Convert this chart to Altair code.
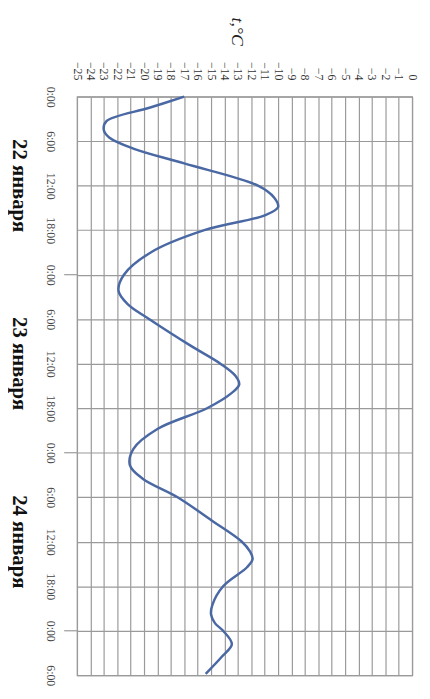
import altair as alt
import pandas as pd

# Reading of the curve (hours from 22 Jan 0:00, temperature in °C)
hours = [0, 1.5, 3.3, 4.5, 5.5, 7, 9, 12, 13.6, 14.9, 16, 18, 21, 24, 26.2,
         28, 30, 33.6, 36, 37.6, 38.8, 40, 42, 44.8, 47.5, 49.7, 51.5, 54,
         57.2, 60, 61.3, 62.3, 63.4, 66, 68.5, 69.8, 71, 72, 73.8, 75.5, 77.8]
temps = [-17.0, -19.6, -22.8, -23.0, -22.6, -20.8, -17.0, -11.5, -10.3, -10.0,
         -11.0, -15.5, -19.5, -21.5, -21.9, -21.2, -19.6, -16.5, -14.3, -13.2,
         -12.9, -13.5, -15.3, -19.0, -20.8, -21.05, -20.1, -17.5, -14.9, -12.7,
         -12.1, -11.9, -12.3, -14.1, -14.9, -15.0, -14.7, -14.1, -13.45, -14.2,
         -15.4]

temp_ticks = list(range(-25, 1))
time_ticks = list(range(0, 79, 6))
day_bounds = [24, 48, 72]
day_centers = [12, 36, 60]
day_names = ["22 января", "23 января", "24 января"]
axis_title = ["t,°C"]

df = pd.DataFrame({"hour": hours, "temp": temps})
bounds_df = pd.DataFrame({"hour": day_bounds})
days_df = pd.DataFrame({"hour": day_centers, "name": day_names})
title_df = pd.DataFrame({"t": axis_title})

GRID = "#9a9a9a"
SERIF = "Liberation Serif"

x_enc = alt.X(
    "temp:Q",
    scale=alt.Scale(domain=[-25, 0], nice=False, zero=False),
    axis=alt.Axis(
        orient="top", values=temp_ticks, grid=True, gridColor=GRID, gridWidth=1.2,
        tickSize=0, domain=False, labelAngle=90, labelAlign="right",
        labelBaseline="middle", labelPadding=17, labelFont=SERIF,
        labelFontSize=12, labelColor="#333", labelOverlap=False, title=None,
    ),
)
y_enc = alt.Y(
    "hour:Q",
    scale=alt.Scale(domain=[0, 78], reverse=True, nice=False, zero=False),
    axis=alt.Axis(
        values=time_ticks, labelExpr="(datum.value % 24) + ':00'", grid=True,
        gridColor=GRID, gridWidth=1.2, tickSize=0, domain=False,
        labelAngle=90, labelAlign="center", labelBaseline="middle",
        labelPadding=27, labelFont=SERIF, labelFontSize=12, labelColor="#444",
        labelOverlap=False, title=None,
    ),
)

line = alt.Chart(df).mark_line(
    interpolate="catmull-rom", color="#4a68a3", strokeWidth=2.5
).encode(x=x_enc, y=y_enc, order=alt.Order("hour:Q"))

bounds = alt.Chart(bounds_df).mark_rule(color=GRID, strokeWidth=1.2).encode(
    y=alt.Y("hour:Q"), x=alt.value(-13), x2=alt.value(0)
)

days = alt.Chart(days_df).mark_text(
    angle=90, font=SERIF, fontSize=21, fontWeight="bold", color="#111",
    align="center", baseline="middle"
).encode(y=alt.Y("hour:Q"), x=alt.value(-59), text="name:N")

title = alt.Chart(title_df).mark_text(
    angle=90, font=SERIF, fontSize=18, fontStyle="italic", color="#222",
    align="center", baseline="middle"
).encode(x=alt.value(162), y=alt.value(-66), text="t:N")

chart = alt.layer(line, bounds, days, title).properties(
    width=340, height=587,
    autosize=alt.AutoSizeParams(type="none"),
    padding={"left": 70, "top": 85, "right": 10, "bottom": 11},
    background="white",
).configure_view(stroke=GRID, strokeWidth=1.2)

chart.save("out.html", embed_options={"renderer": "svg", "actions": False})
